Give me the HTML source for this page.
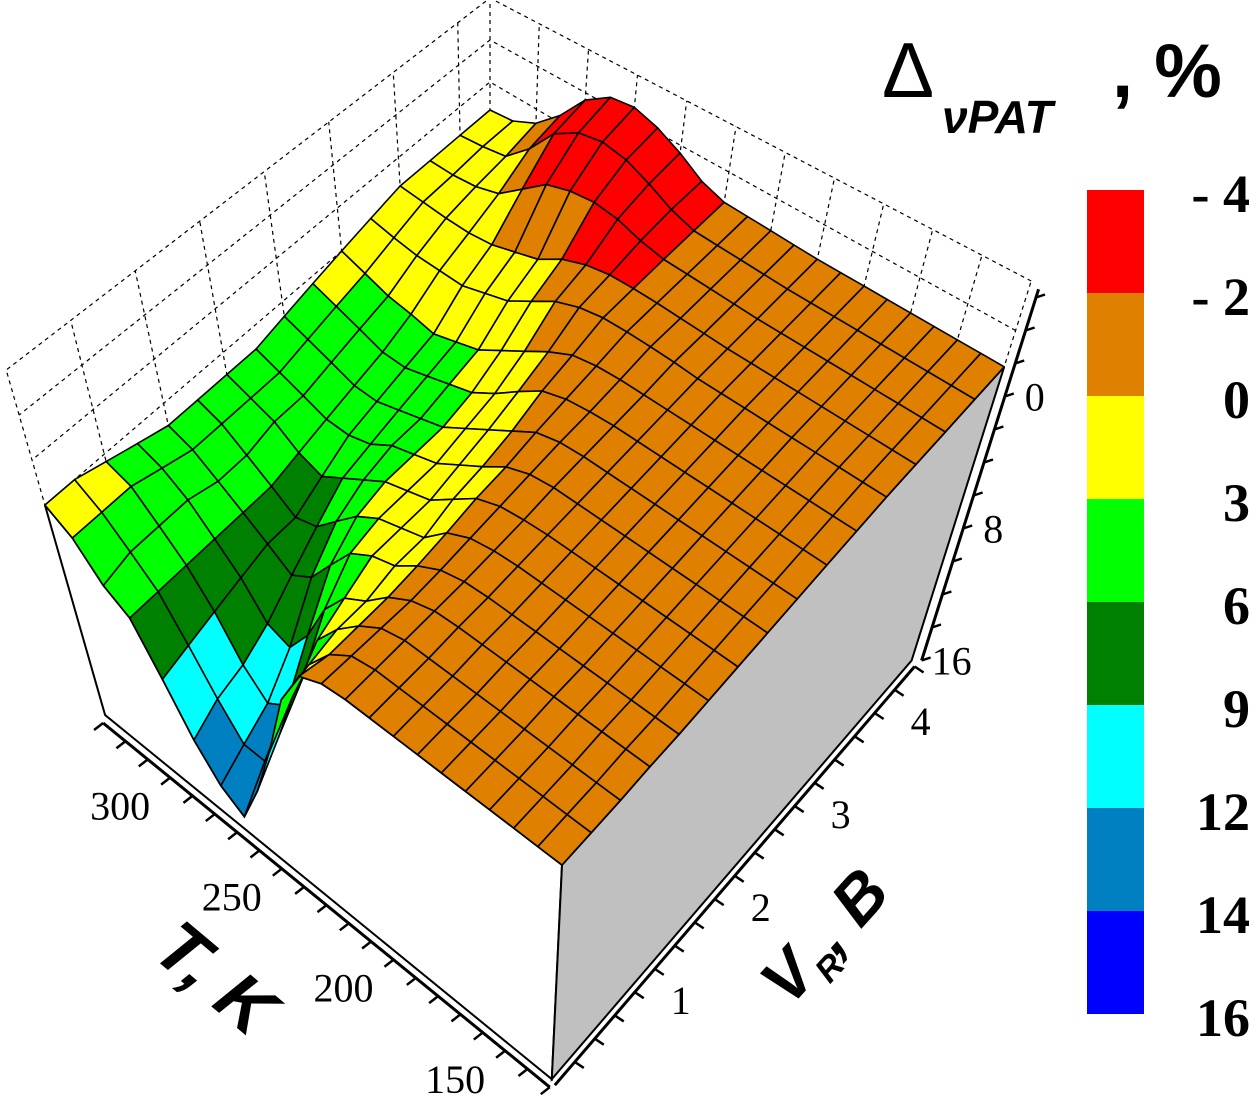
<!DOCTYPE html>
<html><head><meta charset="utf-8"><style>
html,body{margin:0;padding:0;background:#fff;}
svg{display:block;font-family:"Liberation Serif",serif;}
</style></head><body>
<svg id="chart" width="1259" height="1105" viewBox="0 0 1259 1105" xmlns="http://www.w3.org/2000/svg">
<g id="back"></g>
<g id="faces"></g>
<g id="surf"></g>
<g id="axes"></g>
<g id="legend"></g>
<text x="882" y="97" font-size="78" font-family="Liberation Sans,sans-serif">Δ</text>
<text x="942" y="133" font-size="46" font-weight="bold" font-style="italic" font-family="Liberation Sans,sans-serif">νPAT</text>
<text x="1112" y="97" font-size="76" font-weight="bold" font-family="Liberation Sans,sans-serif">, %</text>
<text transform="translate(150,955) rotate(40)" font-size="72" font-weight="bold" font-style="italic" font-family="Liberation Sans,sans-serif">T, K</text>
<text transform="translate(790,1008) rotate(-48)" font-size="66" font-weight="bold" font-style="italic" font-family="Liberation Sans,sans-serif">V<tspan font-size="34" dy="14">R</tspan><tspan dy="-14">, B</tspan></text>
</svg>
<script>
const tVals=[130,139.1,148.2,157.3,166.4,175.5,184.5,193.6,202.7,211.8,220.9,230,239.1,248.2,257.3,266.4,275.5,284.5,293.6,302.7,311.8,320.9,330];
const vVals=[0,0.3,0.6,0.9,1.2,1.5,1.8,2.1,2.4,2.7,3.0,3.3,3.6,3.9,4.2,4.5];
const row0=[-1,-1,-1,-1,-1,-1,-1,-1,-1,-1,-0.8,0,3,8,12,15,14,12,9,6,5,3,2];
const row1=[-1,-1,-1,-1,-1,-1,-1,-1,-1,-1,-0.7,0.5,2.5,6,10,13,13,11,8.5,6,4.5,3,2];
const row2=[-1,-1,-1,-1,-1,-1,-1,-1,-1,-1,-0.6,0.5,2,4,8,11,12,10.5,8,6,4.5,3,2.5];
const row3=[-1.1,-1.1,-1.1,-1.1,-1.1,-1.1,-1.1,-1.1,-1.1,-1,-0.5,0.5,2,3,5,8,10,9.5,7.5,6,4.5,3.5,3];
const row4=[-1.1,-1.1,-1.1,-1.1,-1.1,-1.1,-1.1,-1.1,-1.1,-1,-0.6,0.3,1.5,2,3,5,7,8,7,6,5,4,3.5];
const row5=[-1.2,-1.2,-1.2,-1.2,-1.2,-1.2,-1.2,-1.2,-1.2,-1.1,-0.8,0,1.5,2,2.5,3.5,5,6.5,7,6,5,4,3.5];
const row6=[-1.3,-1.3,-1.3,-1.3,-1.3,-1.3,-1.3,-1.3,-1.3,-1.2,-1,-0.4,0.8,2,2.5,3,4,5,6,5.5,4.5,4,3.5];
const row7=[-1.4,-1.4,-1.4,-1.4,-1.4,-1.4,-1.4,-1.4,-1.4,-1.4,-1.2,-0.6,0.5,1.5,2.5,3,3.5,4.5,5,5,4.5,4,3.5];
const row8=[-1.5,-1.5,-1.5,-1.5,-1.5,-1.5,-1.5,-1.5,-1.5,-1.5,-1.4,-1,0,1,2,3,3.5,4,4.5,4.5,4,3.5,3];
const row9=[-1.6,-1.6,-1.6,-1.6,-1.6,-1.6,-1.6,-1.6,-1.6,-1.6,-1.5,-1.3,-0.8,0.3,1.5,2.5,3,3.5,4,4,3.5,3,2.5];
const row10=[-1.7,-1.7,-1.7,-1.7,-1.7,-1.7,-1.7,-1.7,-1.7,-1.7,-1.7,-1.6,-1.3,-0.5,0.5,1.5,2.5,3,3.5,3.2,3,2.5,2];
const row11=[-1.8,-1.8,-1.8,-1.8,-1.8,-1.8,-1.8,-1.8,-1.8,-1.9,-1.95,-1.95,-1.9,-1.6,-1,0,1,1.5,2,2,2,1.8,1.5];
const row12=[-1.8,-1.8,-1.8,-1.8,-1.8,-1.8,-1.8,-1.8,-1.8,-1.85,-1.9,-1.95,-1.95,-1.9,-1.6,-1,0,0.5,1,1.2,1.2,1.1,1];
const row13=[-1.8,-1.8,-1.8,-1.8,-1.8,-1.8,-1.8,-1.8,-1.8,-1.85,-1.9,-1.95,-2,-2.3,-2.8,-3,-2.8,-2.3,-1,0.3,0.8,1,1];
const row14=[-1.8,-1.8,-1.8,-1.8,-1.8,-1.8,-1.8,-1.8,-1.8,-1.85,-1.9,-1.95,-2,-2.5,-3.3,-4,-4.3,-4,-3,-1,0.5,0.8,1];
const row15=[-1.8,-1.8,-1.8,-1.8,-1.8,-1.8,-1.8,-1.8,-1.8,-1.85,-1.9,-1.95,-2,-2.5,-3.5,-4.3,-4.8,-4.6,-3.5,-1.5,0,0.8,1];
const rows=[row0,row1,row2,row3,row4,row5,row6,row7,row8,row9,row10,row11,row12,row13,row14,row15];
const levels=[-4,-2,0,3,6,9,12,14,16];
const levelLabels=["- 4","- 2","0","3","6","9","12","14","16"];
const levelColors=["#ff0000","#df8000","#ffff00","#00ff00","#008000","#00ffff","#0080c0","#0000ff"];
const tTicks=[150,200,250,300];
const vTicks=[1,2,3,4];
const zTicks=[0,8,16];

const NS="http://www.w3.org/2000/svg";
function mk(tag,attrs,parent){const e=document.createElementNS(NS,tag);for(const k in attrs)e.setAttribute(k,attrs[k]);parent.appendChild(e);return e;}
const Pp={p00:[562,865],p01:[1000,380],p10:[32,460],p11:[490,82]};
const Dd={d00:[-0.6,12.6],d01:[-5.2,16.5],d10:[4.3,15],d11:[0,14]};
const T0=130,T1=330;
function bil(a,b,c,d,t,v,k){return a[k]*(1-t)*(1-v)+b[k]*(1-t)*v+c[k]*t*(1-v)+d[k]*t*v;}
function proj(T,V,D){const t=(T-T0)/(T1-T0),v=V/4.5;
  return [bil(Pp.p00,Pp.p01,Pp.p10,Pp.p11,t,v,0)+(D+1)*bil(Dd.d00,Dd.d01,Dd.d10,Dd.d11,t,v,0),
          bil(Pp.p00,Pp.p01,Pp.p10,Pp.p11,t,v,1)+(D+1)*bil(Dd.d00,Dd.d01,Dd.d10,Dd.d11,t,v,1)];}
function colorFor(d){for(let k=0;k<levelColors.length;k++){if(d<levels[k+1])return levelColors[k];}return levelColors[levelColors.length-1];}
function pts(a){return a.map(p=>p[0].toFixed(1)+","+p[1].toFixed(1)).join(" ");}

const back=document.getElementById('back');
const tMax=tVals[tVals.length-1],vMax=vVals[vVals.length-1];
for(let i=0;i<tVals.length;i+=2){const a=proj(tVals[i],vMax,16),b=proj(tVals[i],vMax,-7);
  const l=mk('line',{x1:a[0],y1:a[1],x2:b[0],y2:b[1],stroke:"#000","stroke-width":1.2,"stroke-dasharray":"4,4"},back);
  }
for(let j=0;j<vVals.length;j+=2){const a=proj(tMax,vVals[j],16),b=proj(tMax,vVals[j],-7);
  const l=mk('line',{x1:a[0],y1:a[1],x2:b[0],y2:b[1],stroke:"#000","stroke-width":1.2,"stroke-dasharray":"4,4"},back);
  }
[-7,-4,-1,2].forEach(d=>{const a=proj(T0,vMax,d),b=proj(tMax,vMax,d),c=proj(tMax,0,d);
  const l=mk('polyline',{points:pts([a,b,c]),fill:"none",stroke:"#000","stroke-width":1.2,"stroke-dasharray":"4,4"},back);
  });

const faces=document.getElementById('faces');
let fp=tVals.map((T,i)=>proj(T,0,rows[0][i]));fp=fp.concat([proj(tMax,0,16),proj(T0,0,16)]);
const ff=mk('polygon',{points:pts(fp),fill:"#fff",stroke:"#000","stroke-width":2},faces);

let rp=vVals.map((V,j)=>proj(T0,V,rows[j][0]));rp=rp.concat([proj(T0,vMax,16),proj(T0,0,16)]);
const rf=mk('polygon',{points:pts(rp),fill:"#c0c0c0",stroke:"#000","stroke-width":2},faces);


const surf=document.getElementById('surf');
const cells=[];
for(let i=0;i<tVals.length-1;i++)for(let j=0;j<vVals.length-1;j++)cells.push([i,j]);
cells.sort((a,b)=>(b[0]+b[1])-(a[0]+a[1]));
cells.forEach(([i,j])=>{
  const d=[rows[j][i],rows[j][i+1],rows[j+1][i+1],rows[j+1][i]];
  const p=[proj(tVals[i],vVals[j],d[0]),proj(tVals[i+1],vVals[j],d[1]),proj(tVals[i+1],vVals[j+1],d[2]),proj(tVals[i],vVals[j+1],d[3])];
  const avg=(d[0]+d[1]+d[2]+d[3])/4;
  const c=mk('polygon',{points:pts(p),fill:colorFor(avg),stroke:"#000","stroke-width":1.6,"stroke-linejoin":"round"},surf);
  
  
});

const axes=document.getElementById('axes');
function axLine(a,b,name){const l=mk('line',{x1:a[0],y1:a[1],x2:b[0],y2:b[1],stroke:"#000","stroke-width":3},axes);}
function tAxisPt(T){const p=proj(T,0,16);return [p[0]-2,p[1]+8];}
axLine(tAxisPt(T0),tAxisPt(T1),'t-axis-line');
for(let T=T0;T<=T1;T+=10){const p=tAxisPt(T);const l=mk('line',{x1:p[0],y1:p[1],x2:p[0]-9,y2:p[1]+7,stroke:"#000","stroke-width":2.5},axes);
  }
tTicks.forEach(T=>{const p=tAxisPt(T);const t=mk('text',{x:p[0]-50,y:p[1]+42,"font-size":40,"text-anchor":"middle"},axes);t.textContent=T;
  });
function vAxisPt(V){const p=proj(T0,V,16);return [p[0]+3,p[1]+6];}
axLine(vAxisPt(0),vAxisPt(4.5),'v-axis-line');
for(let V=0.25;V<=4.5;V+=0.25){const p=vAxisPt(V);const l=mk('line',{x1:p[0],y1:p[1],x2:p[0]+9,y2:p[1]+6,stroke:"#000","stroke-width":2.5},axes);
  }
vTicks.forEach(V=>{const p=vAxisPt(V);const t=mk('text',{x:p[0]+46,y:p[1]+22,"font-size":40,"text-anchor":"middle"},axes);t.textContent=V;
  });
function zAxisPt(D){const p=proj(T0,vMax,D);return [p[0]+10,p[1]];}
axLine(zAxisPt(16),zAxisPt(-6.5),'z-axis-line');
for(let D=-6;D<=16;D+=2){const p=zAxisPt(D);const l=mk('line',{x1:p[0],y1:p[1],x2:p[0]+9,y2:p[1]-3,stroke:"#000","stroke-width":2.5},axes);
  }
zTicks.forEach(D=>{const p=zAxisPt(D);const t=mk('text',{x:p[0]+30,y:p[1]+14,"font-size":40,"text-anchor":"middle"},axes);t.textContent=D;
  });

const lg=document.getElementById('legend');
const boxH=103,top0=190;
levelColors.forEach((c,k)=>{const r=mk('rect',{x:1087,y:top0+k*boxH,width:57,height:boxH,fill:c},lg);
  });
levelLabels.forEach((s,k)=>{const t=mk('text',{x:1250,y:top0+k*boxH+22,"font-size":54,"font-weight":"bold","text-anchor":"end"},lg);t.textContent=s;
  });
</script>
</body></html>
